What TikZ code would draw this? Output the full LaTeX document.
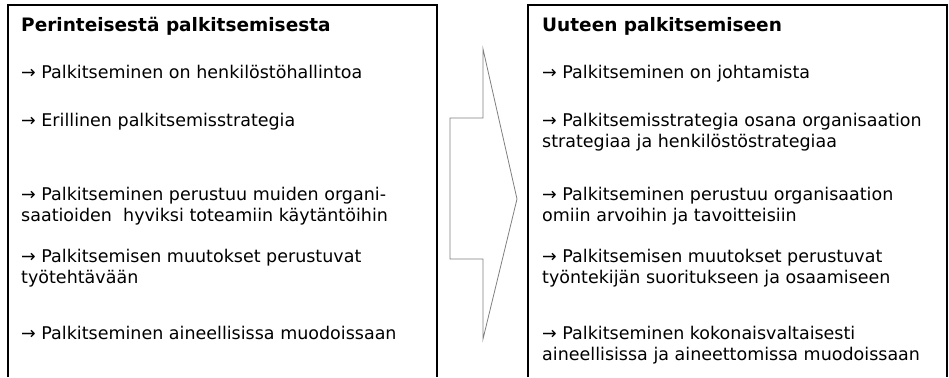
\documentclass[tikz,border=0pt]{standalone}
\usepackage{fontspec}
\setmainfont{DejaVu Sans}
\usetikzlibrary{positioning}
\definecolor{ink}{HTML}{000000}
\definecolor{arrowline}{HTML}{7F7F7F}
\tikzset{
  frame/.style    = {draw=ink, line width=1.3pt},
  bigarrow/.style = {draw=arrowline, line width=0.8pt, line join=miter},
  head/.style     = {anchor=base west, inner sep=0pt, font=\fontsize{18.5}{21.5}\selectfont\bfseries},
  item/.style     = {anchor=base west, inner sep=0pt, align=left, font=\fontsize{17.5}{21.5}\selectfont},
}

\begin{document}
\begin{tikzpicture}[x=1pt, y=-1pt]
  \useasboundingbox (0,0) rectangle (949,377);

  % the two open frames
  \draw[frame] (8,377) -- (8,5) -- (437,5) -- (437,377);
  \draw[frame] (528,377) -- (528,5) -- (947,5) -- (947,377);

  % big arrow between them
  \draw[bigarrow] (450,118) -- (483,118) -- (483,49) -- (517,199)
    -- (483,339) -- (483,259) -- (450,259) -- cycle;

  % old way (base = last line)
  \node[head] (old) at (21,32) {Perinteisestä palkitsemisesta};
  \node[item] (o1) at (21,79) {→ Palkitseminen on henkilöstöhallintoa};
  \node[item] (o2) at (21,126) {→ Erillinen palkitsemisstrategia};
  \node[item] (o3) at (21,221.5) {→ Palkitseminen perustuu muiden organi-\\saatioiden~ hyviksi toteamiin käytäntöihin};
  \node[item] (o4) at (21,283.5) {→ Palkitsemisen muutokset perustuvat\\työtehtävään};
  \node[item] (o5) at (21,339) {→ Palkitseminen aineellisissa muodoissaan};

  % new way
  \node[head] (new) at (542,32) {Uuteen palkitsemiseen};
  \node[item] (n1) at (542,79) {→ Palkitseminen on johtamista};
  \node[item] (n2) at (542,147.5) {→ Palkitsemisstrategia osana organisaation\\strategiaa ja henkilöstöstrategiaa};
  \node[item] (n3) at (542,221.5) {→ Palkitseminen perustuu organisaation\\omiin arvoihin ja tavoitteisiin};
  \node[item] (n4) at (542,283.5) {→ Palkitsemisen muutokset perustuvat\\työntekijän suoritukseen ja osaamiseen};
  \node[item] (n5) at (542,360.5) {→ Palkitseminen kokonaisvaltaisesti\\aineellisissa ja aineettomissa muodoissaan};
\end{tikzpicture}
\end{document}
